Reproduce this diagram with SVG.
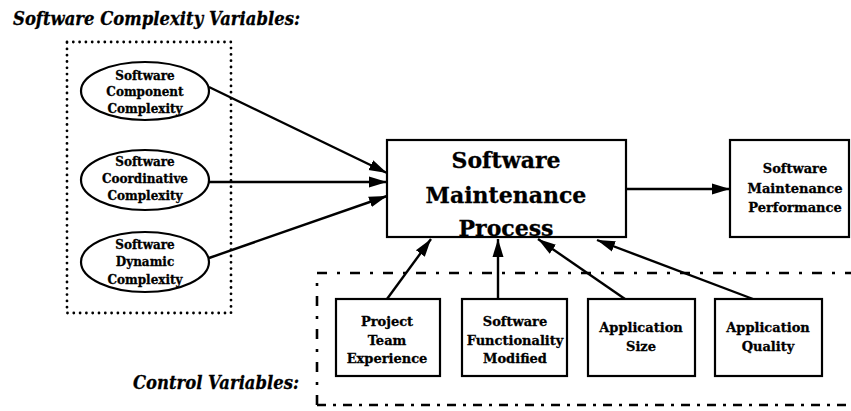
<svg xmlns="http://www.w3.org/2000/svg" width="851" height="411" viewBox="0 0 851 411">
<style>
.bg{fill:#ffffff}
.nd{fill:#ffffff;stroke:#000;stroke-width:2.2}
.t{font-family:"DejaVu Serif","Liberation Serif",serif;font-weight:bold;fill:#000;stroke:#000;stroke-width:0.3;text-anchor:middle}
.s12{font-size:12px}
.s13{font-size:13px}
.s22{font-size:22px}
.hd{font-family:"DejaVu Serif","Liberation Serif",serif;font-weight:bold;font-style:italic;fill:#000;stroke:#000;stroke-width:0.3}
.cn{stroke:#000;stroke-width:2.4;fill:none;marker-end:url(#ah)}
.dots{fill:none;stroke:#000;stroke-width:2.8;stroke-linecap:round;stroke-dasharray:0 6.3}
.dd{fill:none;stroke:#000;stroke-width:2.6;stroke-dasharray:10 10 3 10}
</style>
<defs>
<marker id="ah" markerUnits="userSpaceOnUse" markerWidth="20" markerHeight="14" refX="18" refY="7" orient="auto">
<path d="M0,1.5 L18,7 L0,12.5 Z" fill="#000"/>
</marker>
</defs>
<rect class="bg" x="0" y="0" width="851" height="411"/>
<text class="hd" x="13" y="25" font-size="18" textLength="287" lengthAdjust="spacingAndGlyphs">Software Complexity Variables:</text>
<text class="hd" x="133" y="389" font-size="19" textLength="166" lengthAdjust="spacingAndGlyphs">Control Variables:</text>
<g id="complexity-group">
<rect class="dots" x="67" y="42" width="164" height="271"/>
</g>
<g id="control-group">
<path class="dd" d="M317,273 L851,273"/>
<path class="dd" d="M317,405 L317,273"/>
<path class="dd" style="stroke-dasharray:9 7 3 7" d="M317,405 L851,405"/>
</g>
<g id="connectors">
<line class="cn" x1="209" y1="87" x2="387" y2="173"/>
<line class="cn" x1="209" y1="182" x2="387" y2="182"/>
<line class="cn" x1="209" y1="258" x2="387" y2="196"/>
<line class="cn" x1="626" y1="189" x2="730" y2="189"/>
<line class="cn" x1="387" y1="299" x2="431" y2="239"/>
<line class="cn" x1="498" y1="299" x2="498" y2="239"/>
<line class="cn" x1="625" y1="299" x2="538" y2="239"/>
<line class="cn" x1="753" y1="299" x2="597" y2="240"/>
</g>
<g id="component-complexity">
<ellipse class="nd" cx="145" cy="91" rx="64" ry="29"/>
<text class="t s12" x="145" y="80">Software</text>
<text class="t s12" x="145" y="96">Component</text>
<text class="t s12" x="145" y="113">Complexity</text>
</g>
<g id="coordinative-complexity">
<ellipse class="nd" cx="145" cy="180" rx="64" ry="30"/>
<text class="t s12" x="145" y="166">Software</text>
<text class="t s12" x="145" y="183">Coordinative</text>
<text class="t s12" x="145" y="200">Complexity</text>
</g>
<g id="dynamic-complexity">
<ellipse class="nd" cx="145" cy="262" rx="64" ry="30"/>
<text class="t s12" x="145" y="249">Software</text>
<text class="t s12" x="145" y="266">Dynamic</text>
<text class="t s12" x="145" y="284">Complexity</text>
</g>
<g id="maintenance-process">
<rect class="nd" x="387" y="140" width="239" height="97"/>
<text class="t s22" x="506" y="168">Software</text>
<text class="t s22" x="506" y="203">Maintenance</text>
<text class="t s22" x="506" y="236">Process</text>
</g>
<g id="maintenance-performance">
<rect class="nd" x="730" y="140" width="119" height="97"/>
<text class="t s13" x="795" y="173">Software</text>
<text class="t s13" x="795" y="193">Maintenance</text>
<text class="t s13" x="795" y="212">Performance</text>
</g>
<g id="project-team-experience">
<rect class="nd" x="336" y="299" width="104" height="77"/>
<text class="t s13" x="387" y="326">Project</text>
<text class="t s13" x="387" y="345">Team</text>
<text class="t s13" x="387" y="363">Experience</text>
</g>
<g id="software-functionality-modified">
<rect class="nd" x="462" y="299" width="105" height="77"/>
<text class="t s13" x="515" y="326">Software</text>
<text class="t s13" x="515" y="345">Functionality</text>
<text class="t s13" x="515" y="363">Modified</text>
</g>
<g id="application-size">
<rect class="nd" x="588" y="299" width="107" height="77"/>
<text class="t s13" x="641" y="332">Application</text>
<text class="t s13" x="641" y="351">Size</text>
</g>
<g id="application-quality">
<rect class="nd" x="715" y="299" width="107" height="77"/>
<text class="t s13" x="768" y="332">Application</text>
<text class="t s13" x="768" y="351">Quality</text>
</g>
</svg>
